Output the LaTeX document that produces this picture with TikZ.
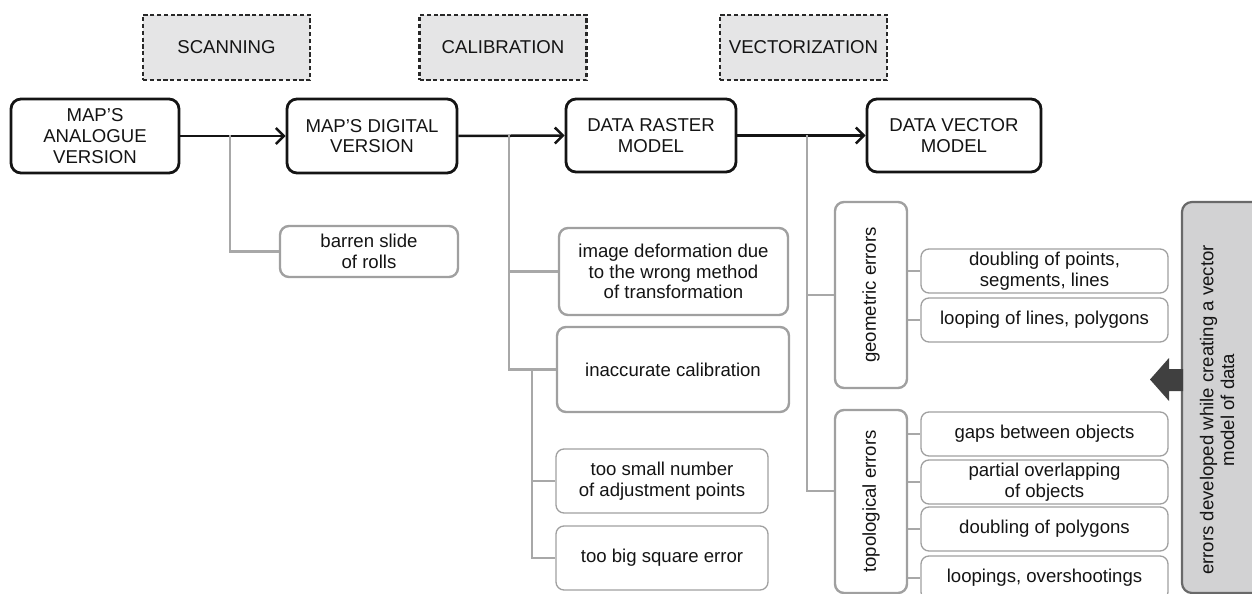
\documentclass[tikz,border=0pt]{standalone}
\usepackage{fontspec}
\setmainfont{Liberation Sans}
\usetikzlibrary{arrows.meta,calc}
\definecolor{ink}{RGB}{20,20,20}
\definecolor{dashc}{RGB}{40,40,40}
\definecolor{stagefill}{RGB}{229,229,230}
\definecolor{connc}{RGB}{168,168,168}
\definecolor{gboxc}{RGB}{160,160,160}
\definecolor{errfill}{RGB}{210,210,211}
\definecolor{errdraw}{RGB}{105,105,105}
\definecolor{bigarrow}{RGB}{64,64,64}
\begin{document}
\begin{tikzpicture}[x=1bp,y=-1bp,
  every node/.style={font=\fontsize{18.6bp}{20.8bp}\selectfont, text=ink, inner sep=2bp},
  stage/.style={draw=dashc, fill=stagefill, line width=2.2bp, dash pattern=on 4.2bp off 2.6bp, minimum width=167bp, minimum height=65bp},
  mainbox/.style={draw=ink, line width=2.8bp, rounded corners=10bp, align=center, minimum height=73bp},
  gbox/.style={draw=gboxc, line width=2.4bp, rounded corners=9bp, align=center},
  tbox/.style={draw=gboxc, line width=1.3bp, rounded corners=8bp, align=center, minimum width=247bp, minimum height=44bp},
  flow/.style={draw=ink, line width=2.5bp, -{Straight Barb[length=8bp,width=16bp]}},
  conn/.style={draw=connc, line width=2.3bp},
  thinconn/.style={draw=connc, line width=1.3bp}]
\useasboundingbox (0,0) rectangle (1252,594);

% stages
\node[stage] (scan) at (226.5,47.5) {SCANNING};
\node[stage] (calib) at (503,47.5) {CALIBRATION};
\node[stage] (vect) at (803.5,47.5) {VECTORIZATION};

% main boxes
\node[mainbox, minimum width=168bp, minimum height=74bp] (analog) at (95,136) {MAP'S\\ANALOGUE\\VERSION};
\node[mainbox, minimum width=170bp, minimum height=74bp] (digital) at (372,136) {MAP'S DIGITAL\\VERSION};
\node[mainbox, minimum width=170bp] (raster) at (651,135.5) {DATA RASTER\\MODEL};
\node[mainbox, minimum width=174bp] (vector) at (954,135.5) {DATA VECTOR\\MODEL};

\draw[flow] (analog.east) -- (digital.west);
\draw[flow] (digital.east) -- (raster.west);
\draw[flow] (raster.east) -- (vector.west);

% scanning errors
\node[gbox, minimum width=178bp, minimum height=51bp] (barren) at (369,251.5) {barren slide\\of rolls};
\coordinate (j1) at (230,135);
\draw[conn] (j1) |- (barren.west);

% calibration errors
\node[gbox, minimum width=229bp, minimum height=87bp] (deform) at (673.5,271.5) {image deformation due\\to the wrong method\\of transformation};
\node[gbox, minimum width=232bp, minimum height=85bp] (inacc) at (673,369.5) {inaccurate calibration};
\node[tbox, minimum width=212bp, minimum height=64bp] (small) at (662,481) {too small number\\of adjustment points};
\node[tbox, minimum width=212bp, minimum height=64bp] (big) at (662,558) {too big square error};
\coordinate (j2) at (509,135);
\draw[conn] (j2) |- (deform.west);
\draw[conn] (j2) |- (inacc.west);
\coordinate (j3) at (532,369.5);
\draw[thinconn] (j3) |- (small.west);
\draw[thinconn] (j3) |- (big.west);

% vectorization errors
\node[gbox, minimum width=72bp, minimum height=186bp] (geo) at (871,295) {};
\node[rotate=90] at (geo.center) {geometric errors};
\node[gbox, minimum width=72bp, minimum height=183bp] (topo) at (871,501.5) {};
\node[rotate=90] at (topo.center) {topological errors};
\coordinate (j4) at (807,135);
\draw[conn] (j4) |- (geo.west);
\draw[conn] (j4) |- (topo.west |- 0,491);

\node[tbox] (d1) at (1044.5,271) {doubling of points,\\segments, lines};
\node[tbox] (d2) at (1044.5,320) {looping of lines, polygons};
\node[tbox] (t1) at (1044.5,434) {gaps between objects};
\node[tbox] (t2) at (1044.5,482) {partial overlapping\\of objects};
\node[tbox] (t3) at (1044.5,529) {doubling of polygons};
\node[tbox] (t4) at (1044.5,578) {loopings, overshootings};
\foreach \b in {d1,d2} \draw[thinconn] (geo.east |- \b.west) -- (\b.west);
\foreach \b in {t1,t2,t3,t4} \draw[thinconn] (topo.east |- \b.west) -- (\b.west);

% side note
\draw[draw=errdraw, fill=errfill, line width=2.2bp, rounded corners=10bp] (1182,202) rectangle (1275,593);
\node[rotate=90, align=center] (errtext) at (1217,410) {errors developed while creating a vector\\model of data};
\fill[bigarrow] (1183,369) -- (1169,369) -- (1169,358) -- (1150,379.5) -- (1169,401) -- (1169,391) -- (1183,391) -- cycle;
\end{tikzpicture}
\end{document}
